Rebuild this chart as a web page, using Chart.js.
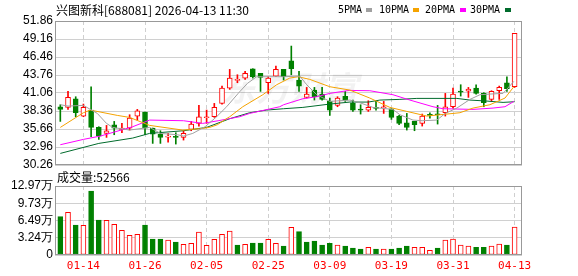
<!DOCTYPE html>
<html>
<head>
<meta charset="utf-8">
<script src="https://cdn.jsdelivr.net/npm/chart.js@4.4.1/dist/chart.umd.min.js"></script>
<style>
body{margin:0;background:#fff;width:578px;height:276px;overflow:hidden;position:relative;font-family:"Noto Sans CJK SC",sans-serif;}
canvas{position:absolute;left:0;}
#chartK{top:0;}
#chartVol{top:172px;}
.txt{position:absolute;font-size:12px;line-height:14px;white-space:nowrap;color:#000;}
.lg{position:absolute;top:4px;font-family:"DejaVu Sans Mono";font-size:10px;line-height:12px;white-space:nowrap;color:#000;}
.lgBox{position:absolute;width:6px;height:4px;top:8px;}
</style>
</head>
<body>
<canvas id="chartK" width="578" height="175"></canvas>
<canvas id="chartVol" width="578" height="104"></canvas>

<div class="txt" style="left:56px;top:3px">兴图新科[688081] 2026-04-13 11:30</div>
<div class="lg" style="left:338px">5PMA</div><div class="lgBox" style="left:366px;background:#a0a0a0"></div>
<div class="lg" style="left:379px">10PMA</div><div class="lgBox" style="left:413px;background:#f5a300"></div>
<div class="lg" style="left:425px">20PMA</div><div class="lgBox" style="left:460px;background:#ff00ff"></div>
<div class="lg" style="left:470px">30PMA</div><div class="lgBox" style="left:505px;background:#006b2c"></div>
<div class="txt" style="left:57px;top:170px">成交量:52566</div>

<script>
// trading days (2026)
const dates = ["01-09","01-12","01-13","01-14","01-15","01-16","01-19","01-20","01-21","01-22","01-23","01-26","01-27","01-28","01-29","01-30",
               "02-02","02-03","02-04","02-05","02-06","02-09","02-10","02-11","02-12","02-13","02-24","02-25","02-26","02-27",
               "03-02","03-03","03-04","03-05","03-06","03-09","03-10","03-11","03-12","03-13","03-16","03-17","03-18","03-19","03-20",
               "03-23","03-24","03-25","03-26","03-27","03-30","03-31",
               "04-01","04-02","04-03","04-07","04-08","04-09","04-10","04-13"];
const tickIdx = [3, 11, 19, 27, 35, 43, 51, 59];

// OHLC
const openP  = [39.0,38.9,40.2,37.6,38.5,35.9,35.0,36.3,35.6,35.8,37.6,38.2,35.8,34.9,34.45,34.55,34.4,35.6,36.5,37.35,
                37.5,39.5,41.8,42.95,43.3,44.7,44.0,42.6,43.6,44.6,45.9,43.0,40.4,41.5,40.9,39.8,39.2,40.55,39.5,38.65,
                38.5,38.9,38.85,38.7,37.6,36.6,36.8,36.5,37.85,37.95,38.1,39.0,41.35,41.35,41.8,41.0,40.1,41.4,42.6,42.0];
const closeP = [38.6,40.4,38.1,38.9,35.9,34.6,35.4,35.8,35.8,37.3,38.4,35.8,34.9,34.4,34.6,34.4,35.0,36.4,37.5,37.5,
                38.9,41.8,43.3,43.1,44.0,43.5,43.4,43.3,44.6,43.5,44.7,42.1,40.9,40.5,40.1,38.5,40.3,40.0,38.5,38.5,
                38.9,38.75,39.0,37.4,36.5,35.9,36.3,37.6,37.7,37.8,39.0,40.9,41.2,41.65,41.0,39.6,41.3,41.9,41.7,50.0];
const highP  = [39.3,41.3,40.5,39.4,42.0,36.0,36.2,36.8,36.5,37.8,38.6,38.2,35.8,35.4,35.0,35.1,35.4,36.8,39.2,38.5,
                39.5,42.1,44.6,43.8,44.3,44.7,44.0,43.5,45.1,44.6,48.1,44.3,41.9,41.9,41.9,40.3,40.5,41.3,40.0,39.3,
                39.9,39.9,39.8,38.7,37.7,38.0,36.8,37.9,38.1,39.2,41.0,41.8,42.3,41.9,42.3,41.1,41.4,42.1,43.5,50.0];
const lowP   = [36.8,38.6,37.5,37.5,34.5,34.1,34.4,34.8,35.1,35.5,37.0,34.8,33.5,33.5,33.7,33.4,34.0,35.4,36.1,36.5,
                37.4,39.4,41.6,42.6,43.1,43.3,41.3,41.0,43.5,43.0,43.8,41.3,40.3,40.0,40.0,37.7,39.0,39.8,38.3,37.9,
                38.3,38.5,38.0,37.1,36.3,35.5,35.4,36.1,37.3,36.4,37.6,38.8,40.6,40.4,40.9,39.0,39.8,40.1,41.3,41.9];

// moving averages: [index, price]
const ma5  = [[0,39.3],[1,39.1],[3,39.2],[4.8,38.0],[6,36.5],[6.8,35.9],[9,35.5],[11.6,35.9],[13,35.0],[15.2,34.8],[16,34.6],
              [17.2,35.0],[18.8,36.0],[20.3,37.5],[21.6,39.0],[23.1,41.0],[24.3,42.5],[25.5,43.5],[27.2,43.5],[29,43.5],
              [31.1,43.6],[32,42.3],[33.3,40.8],[35,39.8],[37.6,40.0],[38.9,39.6],[40.6,38.9],[43.2,38.6],[44.1,37.8],
              [45.8,37.0],[47,36.9],[48.9,37.0],[50,38.0],[51.5,38.8],[53.2,40.1],[54.5,40.8],[55.8,40.9],[57.5,41.0],[58.9,42.8]];
const ma10 = [[0,35.9],[3,38.1],[3.9,38.5],[7.4,37.7],[9,37.4],[11.6,36.2],[15.9,35.5],[18.1,35.7],[19.4,35.9],[20.4,36.3],
              [21.7,37.3],[22,37.5],[23.7,39.0],[26.3,40.8],[28.1,42.3],[29.8,43.3],[30.9,43.5],[32.4,43.1],[35,42.0],
              [37.6,41.5],[40.2,40.3],[42.8,38.9],[45,38.3],[47.6,37.6],[50.2,37.9],[51.9,38.1],[53.6,38.8],[55.8,39.3],
              [57.75,40.3],[58.9,42.0]];
const ma20 = [[0,33.3],[3,34.1],[5.2,34.6],[9.4,36.0],[11.6,37.0],[16,36.9],[18.5,36.5],[20.5,36.9],[23.3,37.5],[24.6,38.0],
              [28.5,39.0],[29,39.3],[31.5,40.2],[33.3,40.5],[35,41.0],[37.5,41.45],[40.2,41.4],[43.2,40.8],[45.4,40.0],
              [48.4,39.0],[49.7,38.7],[53.6,38.6],[56.2,38.8],[57.75,39.0],[58.9,39.8]];
const ma30 = [[0,32.0],[5,33.5],[9.4,34.3],[11.6,35.0],[16,35.4],[19,35.9],[22,37.2],[24.6,38.1],[26.8,38.5],[29,38.7],
              [31.5,38.9],[35,39.4],[37.6,39.7],[40,39.7],[41.5,40.0],[44,40.1],[46.3,40.25],[51.5,40.25],[53.2,40.0],
              [55.4,39.85],[57.5,39.65],[59,39.75]];

// volume (万手) and bar colour (u = red, d = green)
const vol = [7.2,8.0,5.64,5.58,12.03,6.58,6.52,5.77,4.64,3.7,3.89,5.64,3.0,3.0,2.82,2.44,2.0,2.2,4.32,1.82,
             2.95,3.89,4.51,1.88,2.0,2.26,2.26,2.95,2.2,1.69,5.2,4.38,2.44,2.63,1.88,2.2,1.88,1.69,1.32,1.13,
             1.45,1.13,1.13,1.13,1.32,1.69,1.45,1.45,0.88,1.32,2.82,3.0,1.88,1.66,1.45,1.45,1.66,2.03,1.88,5.2566];
const volDir = "dudud duuuu udddu duuuu uuudu dduud uddddd udddu dudddu uudu uuudd uudu".replace(/ /g,"").split("");

const priceTicks = [30.26,32.96,35.66,38.36,41.06,43.76,46.46,49.16,51.86];
const volTicks   = [0,3.24,6.49,9.73,12.97];

const RED = "#ff0000", GREEN = "#008000";
const X_MIN = -0.69, X_MAX = 59.96;

// 테두리
const framePlugin = {
    id: "frame",
    afterDatasetsDraw(chart){
        const a = chart.chartArea, c = chart.ctx;
        c.save();
        c.strokeStyle = "#999";
        c.lineWidth = 1;
        c.strokeRect(a.left + 0.5, a.top + 0.5, a.right - a.left - 1, a.bottom - a.top - 1);
        c.restore();
    }
};

const watermark = {
    id: "watermark",
    beforeDatasetsDraw(chart){
        const c = chart.ctx;
        c.save();
        c.fillStyle = "rgba(0,0,0,0.05)";
        c.font = "italic bold 34px 'Noto Sans CJK SC'";
        c.textAlign = "center";
        c.textBaseline = "middle";
        c.fillText("东方财富", 290, 88);
        c.restore();
    }
};

function isUp(i){ return closeP[i] >= openP[i]; }
function maSet(label, arr, color){
    return { type:"line", label:label, data: arr.map(p => ({x:p[0], y:p[1]})),
             borderColor:color, borderWidth:1, pointRadius:0, tension:0, order:0 };
}

const xBase = {
    type:"linear", min:X_MIN, max:X_MAX, offset:false,
    afterBuildTicks: s => { s.ticks = tickIdx.map(v => ({value:v})); },
    grid:{ color:"#cfcfcf", drawTicks:false, offset:false },
    border:{ display:false, dash:[4,3] }
};

const yTickFont = {family:"Liberation Sans", size:12};

let chartK = new Chart(document.getElementById("chartK"), {
    type:"bar",
    data:{ datasets:[
        maSet("5PMA", ma5, "#a0a0a0"),
        maSet("10PMA", ma10, "#f5a300"),
        maSet("20PMA", ma20, "#ff00ff"),
        maSet("30PMA", ma30, "#006b2c"),
        {
            label:"body",
            data: openP.map((o,i) => ({x:i, y:[o, closeP[i]]})),
            backgroundColor: ctx => isUp(ctx.dataIndex) ? "#fff" : GREEN,
            borderColor: ctx => isUp(ctx.dataIndex) ? RED : GREEN,
            borderWidth:1, borderSkipped:false, barThickness:5, grouped:false, order:1
        },
        {
            label:"wick",
            data: lowP.map((l,i) => ({x:i, y:[l, highP[i]]})),
            backgroundColor: ctx => isUp(ctx.dataIndex) ? RED : GREEN,
            barThickness:1, grouped:false, order:2
        }
    ]},
    options:{
        responsive:false, animation:false,
        layout:{ padding:{left:0, right:56, top:21, bottom:10} },
        plugins:{ legend:{display:false}, tooltip:{enabled:false} },
        scales:{
            x: Object.assign({}, xBase, {
                afterFit: s => { s.height = 0; },
                ticks:{ display:false }
            }),
            y:{
                min:30.26, max:51.86,
                afterBuildTicks: s => { s.ticks = priceTicks.map(v => ({value:v})); },
                afterFit: s => { s.width = 55; },
                ticks:{ callback: v => v.toFixed(2), padding:2, color:"#000", autoSkip:false, font:yTickFont },
                grid:{ color:"#d0d0d0", drawTicks:false },
                border:{ display:false }
            }
        }
    },
    plugins:[watermark, framePlugin]
});

let chartVol = new Chart(document.getElementById("chartVol"), {
    type:"bar",
    data:{ datasets:[{
        label:"成交量",
        data: vol.map((v,i) => ({x:i, y:v})),
        backgroundColor: ctx => volDir[ctx.dataIndex] == "u" ? "#fff" : GREEN,
        borderColor: ctx => volDir[ctx.dataIndex] == "u" ? RED : GREEN,
        borderWidth:1, borderSkipped:false, barThickness:5
    }]},
    options:{
        responsive:false, animation:false,
        layout:{ padding:{left:0, right:56, top:14, bottom:0} },
        plugins:{ legend:{display:false}, tooltip:{enabled:false} },
        scales:{
            x: Object.assign({}, xBase, {
                afterFit: s => { s.height = 21; },
                ticks:{ callback: v => dates[v], color:RED, padding:5, autoSkip:false, maxRotation:0,
                        font:{family:"DejaVu Sans Mono", size:11} }
            }),
            y:{
                min:0, max:12.97,
                afterBuildTicks: s => { s.ticks = volTicks.map(v => ({value:v})); },
                afterFit: s => { s.width = 55; },
                ticks:{ callback: v => v == 0 ? "0" : v.toFixed(2) + "万", padding:2, color:"#000",
                        autoSkip:false, font:yTickFont },
                grid:{ color:"#d0d0d0", drawTicks:false },
                border:{ display:false }
            }
        }
    },
    plugins:[framePlugin]
});
console.log("volDir len===", volDir.length);
</script>
</body>
</html>
